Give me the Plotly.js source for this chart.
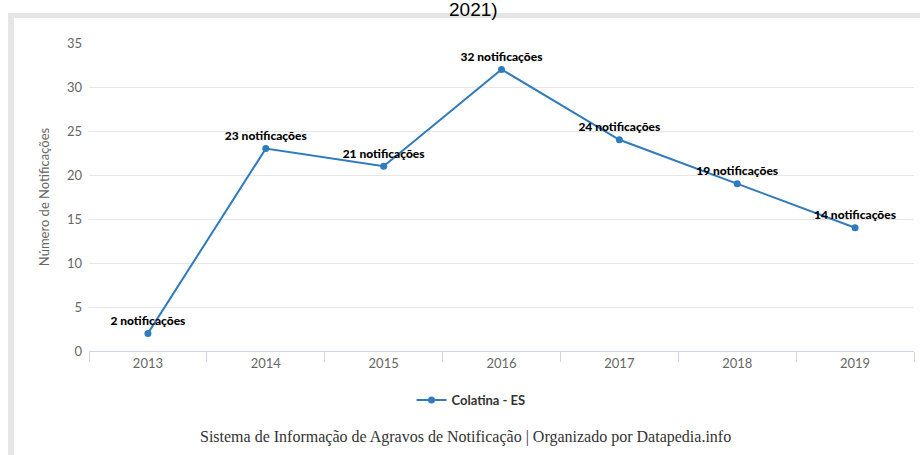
<!DOCTYPE html>
<html>
<head>
<meta charset="utf-8">
<script src="https://cdn.plot.ly/plotly-3.0.1.min.js"></script>
<style>
  html, body { margin: 0; padding: 0; background: #ffffff; }
  #wrap { position: relative; width: 920px; height: 455px; overflow: hidden; }
  .band { position: absolute; background: #e6e6e6; }
  #chart { position: absolute; left: 0; top: 0; width: 920px; height: 455px; }
</style>
</head>
<body>
<div id="wrap">
  <div class="band" style="left:8px; top:13px; width:912px; height:5px;"></div>
  <div class="band" style="left:8px; top:13px; width:6px; height:442px;"></div>
  <div id="chart"></div>
</div>
<script>
const years = ['2013', '2014', '2015', '2016', '2017', '2018', '2019'];
const notificacoes = [2, 23, 21, 32, 24, 19, 14];
const seriesName = 'Colatina - ES';
const yTicks = [0, 5, 10, 15, 20, 25, 30, 35];
const labels = notificacoes.map(v => v + ' notificações');

const trace = {
  x: years,
  y: notificacoes,
  type: 'scatter',
  mode: 'lines+markers+text',
  name: seriesName,
  text: labels,
  textposition: 'top center',
  textfont: { family: 'Lato, sans-serif', size: 12, color: '#000000', weight: 900 },
  line: { color: '#2f7bbd', width: 2 },
  marker: { color: '#2f7bbd', size: 7 },
  cliponaxis: false,
  hoverinfo: 'x+y'
};

const layout = {
  width: 920,
  height: 455,
  margin: { l: 89, r: 6, t: 43, b: 104 },
  paper_bgcolor: 'rgba(0,0,0,0)',
  plot_bgcolor: 'rgba(0,0,0,0)',
  font: { family: 'Lato, sans-serif', color: '#666666' },
  showlegend: true,
  legend: {
    orientation: 'h',
    x: 0.463, xanchor: 'center',
    y: -0.159, yanchor: 'middle',
    itemwidth: 30,
    font: { family: 'Lato, sans-serif', size: 13, color: '#333333', weight: 'bold' },
    bgcolor: 'rgba(0,0,0,0)'
  },
  xaxis: {
    type: 'category',
    range: [-0.5, 6.5],
    showgrid: false,
    showline: true,
    linecolor: '#ccd6eb',
    linewidth: 1,
    ticks: 'outside',
    tickson: 'boundaries',
    ticklen: 10,
    tickcolor: '#ccd6eb',
    tickfont: { size: 13, color: '#666666' },
    zeroline: false,
    fixedrange: true
  },
  yaxis: {
    range: [0, 35],
    tickvals: yTicks,
    showgrid: true,
    gridcolor: '#e6e6e6',
    gridwidth: 1,
    zeroline: false,
    showline: false,
    ticks: '',
    ticklabelstandoff: 6,
    tickfont: { size: 13, color: '#666666' },
    title: { text: 'Número de Notificações', font: { size: 13, color: '#666666' }, standoff: 14 },
    fixedrange: true
  },
  annotations: [
    {
      text: 'Sistema de Informação de Agravos de Notificação | Organizado por Datapedia.info',
      xref: 'paper', yref: 'paper',
      x: 0.456, xanchor: 'center',
      y: -0.279, yanchor: 'middle',
      showarrow: false,
      font: { family: 'Liberation Serif, serif', size: 16, color: '#333333' }
    },
    {
      text: '2021)',
      xref: 'paper', yref: 'paper',
      x: 0.4655, xanchor: 'center',
      y: 1.11, yanchor: 'middle',
      showarrow: false,
      font: { family: 'Liberation Sans, Arial, sans-serif', size: 19, color: '#000000' }
    }
  ]
};

Plotly.newPlot('chart', [trace], layout, { displayModeBar: false, staticPlot: true });
</script>
</body>
</html>
